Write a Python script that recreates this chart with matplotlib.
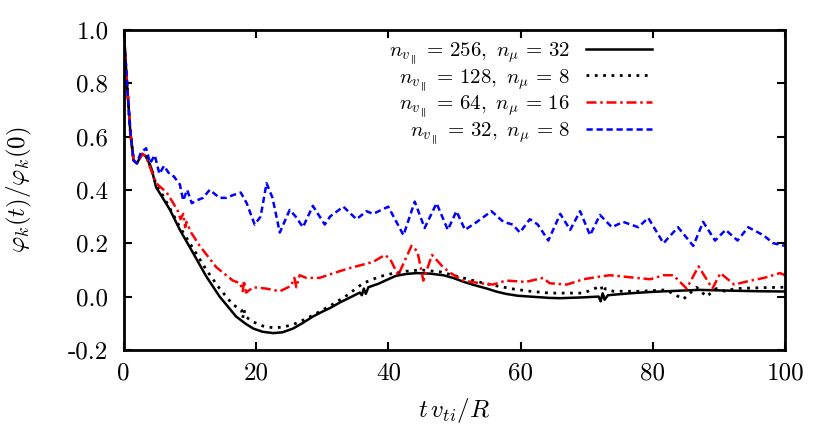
import matplotlib
matplotlib.use("Agg")
import matplotlib.pyplot as plt

plt.rcParams['mathtext.fontset'] = 'cm'
plt.rcParams['font.family'] = 'serif'
plt.rcParams['font.serif'] = ['cmr10', 'DejaVu Serif']
plt.rcParams['axes.unicode_minus'] = False

# n_vpar = 256, n_mu = 32 (solid)
t_256 = [0, 0.5, 1, 1.5, 2, 2.8, 3.4, 4.2, 4.9, 5.9, 7, 8.5, 10.5, 12.5, 14.5, 17,
         18.5, 19.6, 21, 22.6, 24, 25.6, 27, 28.6, 30, 31.2, 32.7, 34.5, 35.7, 36.0, 36.3,
         36.6, 37.0, 38.5, 40, 41.2, 42.8, 44.3, 46.3, 48.3, 49.8, 51.3, 53, 54.9, 56.3,
         57.8, 59.6, 61.4, 64.4, 66, 69.5, 71.8, 72.1, 72.4, 72.7, 73.2, 75, 77, 79.5,
         82, 87, 92, 96, 100]
y_256 = [1.0, 0.80, 0.62, 0.51, 0.50, 0.535, 0.525, 0.48, 0.41, 0.37, 0.325, 0.25, 0.163,
         0.075, 0.0, -0.075, -0.103, -0.12, -0.132, -0.137, -0.134, -0.12, -0.1, -0.075,
         -0.057, -0.043, -0.022, 0.0, 0.015, 0.005, 0.03, 0.01, 0.035, 0.048, 0.065, 0.078,
         0.085, 0.088, 0.086, 0.08, 0.07, 0.056, 0.043, 0.03, 0.019, 0.01, 0.003, 0.0,
         -0.005, -0.006, -0.003, 0.0, -0.018, 0.012, -0.012, 0.005, 0.009, 0.013, 0.017,
         0.02, 0.025, 0.022, 0.02, 0.019]

# n_vpar = 128, n_mu = 8 (dotted)
t_128 = [0, 0.5, 1, 1.5, 2, 2.8, 3.4, 4.2, 4.9, 5.9, 7, 8.5, 10.5, 12.5, 14.5, 16.5,
         17.8, 18.0, 18.2, 18.4, 19.6, 21, 22.6, 24, 25.6, 27, 28.6, 31.2, 33.5, 36.2,
         38.7, 40.7, 42.7, 45, 48, 51.3, 54, 56.4, 59, 61.4, 64.4, 69.5, 72.2, 72.5,
         72.8, 74, 78, 82, 84.6, 86.6, 88.1, 89.6, 90.9, 92.5, 96, 100]
y_128 = [1.0, 0.80, 0.62, 0.51, 0.50, 0.535, 0.525, 0.48, 0.42, 0.38, 0.33, 0.26, 0.18,
         0.1, 0.03, -0.03, -0.05, -0.08, -0.05, -0.075, -0.095, -0.11, -0.117, -0.115,
         -0.105, -0.09, -0.07, -0.035, 0.0, 0.05, 0.075, 0.087, 0.095, 0.1, 0.092, 0.07,
         0.053, 0.04, 0.028, 0.02, 0.013, 0.013, 0.04, 0.0, 0.03, 0.02, 0.02, 0.025,
         -0.01, 0.035, 0.0, 0.03, 0.02, 0.03, 0.033, 0.035]

# n_vpar = 64, n_mu = 16 (dash-dot)
t_64 = [0, 0.5, 1, 1.5, 2, 2.8, 3.4, 4.2, 4.9, 6.5, 7.5, 8.2, 8.6, 9.0, 9.3, 9.5, 10.2,
        11.5, 14, 16.5, 17.6, 18.0, 18.2, 18.5, 19.6, 21.5, 23.6, 25.3, 25.8, 26.1, 26.6,
        27.6, 29.6, 32, 34.2, 36.2, 37.7, 39.5, 40.3, 41.5, 43.5, 44.4, 45.3, 46.6, 48.3,
        49.3, 51.3, 53.9, 55.8, 57.8, 60.8, 63.4, 64.4, 67, 69.5, 72, 73.5, 75.5, 77.5,
        79.6, 81.6, 83.1, 85.1, 86.9, 89, 90.2, 92.3, 94.8, 96.8, 99.2, 100]
y_64 = [1.0, 0.80, 0.62, 0.51, 0.50, 0.535, 0.525, 0.47, 0.425, 0.39, 0.35, 0.32, 0.29,
        0.31, 0.26, 0.28, 0.24, 0.19, 0.11, 0.06, 0.05, 0.02, 0.06, 0.015, 0.035, 0.03,
        0.02, 0.04, 0.07, 0.035, 0.08, 0.07, 0.07, 0.09, 0.107, 0.12, 0.13, 0.156, 0.14,
        0.08, 0.19, 0.17, 0.06, 0.156, 0.11, 0.09, 0.06, 0.05, 0.045, 0.06, 0.055, 0.07,
        0.05, 0.045, 0.065, 0.075, 0.08, 0.075, 0.07, 0.065, 0.08, 0.08, 0.03, 0.113,
        0.03, 0.088, 0.045, 0.06, 0.07, 0.088, 0.08]

# n_vpar = 32, n_mu = 8 (dashed)
t_32 = [0, 0.5, 1, 1.5, 2, 2.6, 3.4, 4.0, 4.7, 5.4, 6.1, 6.9, 7.6, 8.5, 9.0, 9.6, 10.3,
        11, 12, 13, 14.5, 15.5, 16.5, 17.7, 18.6, 19.8, 20.7, 21.6, 22.5, 23.6, 25.1,
        26.0, 27.1, 28.6, 30.4, 31.2, 33.2, 35.2, 36.7, 37.7, 40, 42.3, 44, 45.5, 47.3,
        49, 50.3, 51.6, 53.4, 55.6, 57.4, 58.8, 59.9, 61.4, 62.6, 64.2, 66, 67.5, 69,
        70.5, 72, 73.8, 75.5, 77.8, 79.3, 81.6, 83.8, 86.1, 87.6, 89.4, 91, 92.8, 94.4,
        96.7, 98.2, 100]
y_32 = [1.0, 0.80, 0.62, 0.51, 0.50, 0.54, 0.556, 0.50, 0.53, 0.46, 0.49, 0.46, 0.45,
        0.42, 0.36, 0.40, 0.35, 0.36, 0.37, 0.40, 0.37, 0.37, 0.38, 0.39, 0.35, 0.27,
        0.30, 0.425, 0.37, 0.24, 0.325, 0.30, 0.26, 0.34, 0.27, 0.30, 0.337, 0.29, 0.32,
        0.31, 0.337, 0.23, 0.356, 0.257, 0.35, 0.25, 0.32, 0.25, 0.28, 0.32, 0.28, 0.27,
        0.24, 0.29, 0.27, 0.21, 0.31, 0.25, 0.32, 0.23, 0.306, 0.26, 0.28, 0.26, 0.295,
        0.20, 0.26, 0.19, 0.28, 0.21, 0.25, 0.21, 0.26, 0.23, 0.20, 0.19]

labels = [r'$n_{v_\parallel}\,=\,256,\ n_\mu\,=\,32$', r'$n_{v_\parallel}\,=\,128,\ n_\mu\,=\,8$',
          r'$n_{v_\parallel}\,=\,64,\ n_\mu\,=\,16$', r'$n_{v_\parallel}\,=\,32,\ n_\mu\,=\,8$']
xticks = [0, 20, 40, 60, 80, 100]
yticks = [-0.2, 0.0, 0.2, 0.4, 0.6, 0.8, 1.0]
yticklabels = ['-0.2', '0.0', '0.2', '0.4', '0.6', '0.8', '1.0']

fig = plt.figure(figsize=(8.3, 4.32), dpi=100)
ax = fig.add_axes([0.149, 0.190, 0.797, 0.741])

ax.plot(t_256, y_256, color='black', lw=1.8, label=labels[0])
ax.plot(t_128, y_128, color='black', lw=2.0, ls=(0, (1, 2)), label=labels[1])
ax.plot(t_64, y_64, color='red', lw=1.8, ls=(0, (4, 1.5, 1, 1.5)), label=labels[2])
ax.plot(t_32, y_32, color='blue', lw=1.8, ls=(0, (2.5, 1.5)), label=labels[3])

ax.set_xlim(0, 100)
ax.set_ylim(-0.2, 1.0)
ax.set_xticks(xticks)
ax.set_xticklabels([str(x) for x in xticks])
ax.set_yticks(yticks)
ax.set_yticklabels(yticklabels)
ax.tick_params(direction='in', top=True, right=True, labelsize=18, length=6, width=1.5)
ax.tick_params(axis='x', pad=9)
ax.tick_params(axis='y', pad=11)
for s in ax.spines.values():
    s.set_linewidth(2)

ax.set_xlabel(r'$t\,v_{ti}/R$', fontsize=18)
ax.set_ylabel(r'$\varphi_k(t)/\varphi_k(0)$', fontsize=18)
ax.xaxis.set_label_coords(0.5, -0.145)
ax.yaxis.set_label_coords(-0.135, 0.5)

ax.legend(loc='upper right', bbox_to_anchor=(0.815, 1.0), frameon=False, markerfirst=False,
          fontsize=15, handlelength=3.2, labelspacing=0.05, handletextpad=0.75,
          borderaxespad=0.0, borderpad=0.5)

fig.savefig('out.png', dpi=100)
